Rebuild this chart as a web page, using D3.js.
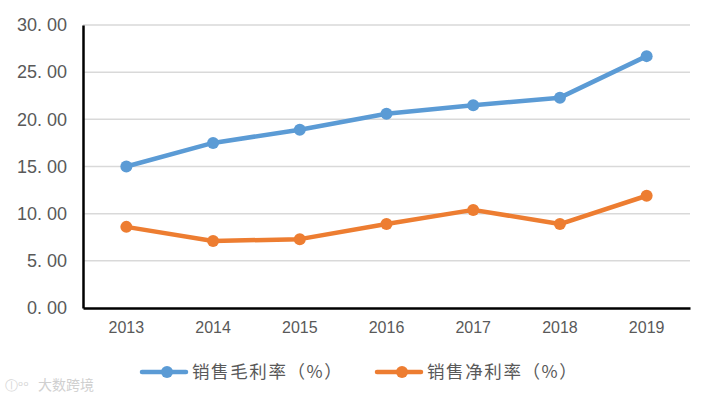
<!DOCTYPE html>
<html><head><meta charset="utf-8">
<script src="https://cdn.jsdelivr.net/npm/d3@7"></script>
<style>body{margin:0;background:#fff;}</style>
</head><body>
<svg id="c" width="705" height="400"></svg>
<script>
const years = ["2013","2014","2015","2016","2017","2018","2019"];
const grossMargin = [15.0, 17.5, 18.9, 20.6, 21.5, 22.3, 26.7];
const netMargin = [8.6, 7.1, 7.3, 8.9, 10.4, 8.9, 11.9];
const yTicks = [0, 5, 10, 15, 20, 25, 30];
const seriesNames = ["销售毛利率（%）", "销售净利率（%）"];
const colors = ["#5B9BD5", "#ED7D31"];

const svg = d3.select("#c");
const m = {l: 83, r: 690, t: 25, b: 308};
const x = d3.scaleBand().domain(years).range([m.l, m.r]);
const y = d3.scaleLinear().domain([0, 30]).range([m.b, m.t]);

// gridlines
svg.append("g").selectAll("line").data(yTicks.filter(d => d > 0)).join("line")
  .attr("x1", m.l).attr("x2", m.r)
  .attr("y1", d => y(d)).attr("y2", d => y(d))
  .attr("stroke", "#d9d9d9").attr("stroke-width", 1.5);

// y axis
const ya = svg.append("g").attr("transform", `translate(${m.l},0)`)
  .call(d3.axisLeft(y).tickValues(yTicks).tickSize(0).tickPadding(16).tickFormat(d => d3.format(".2f")(d).replace(".", ". ")));
ya.select(".domain").attr("stroke", "#000").attr("stroke-width", 2.5);
ya.selectAll("text").attr("font-family", "Liberation Sans, Arial, sans-serif").attr("font-size", 18).attr("fill", "#595959");

// x axis
const xa = svg.append("g").attr("transform", `translate(0,${m.b})`)
  .call(d3.axisBottom(x).tickSize(0).tickPadding(14));
xa.select(".domain").attr("stroke", "#000").attr("stroke-width", 2.5);
xa.selectAll("text").attr("font-family", "Liberation Sans, Arial, sans-serif").attr("font-size", 16).attr("fill", "#595959");

const line = d3.line().x((d, i) => x(years[i]) + x.bandwidth() / 2).y(d => y(d));
[grossMargin, netMargin].forEach((s, k) => {
  svg.append("path").datum(s).attr("d", line).attr("fill", "none")
    .attr("stroke", colors[k]).attr("stroke-width", 4.5).attr("stroke-linejoin", "round");
  svg.append("g").selectAll("circle").data(s).join("circle")
    .attr("cx", (d, i) => x(years[i]) + x.bandwidth() / 2).attr("cy", d => y(d))
    .attr("r", 6).attr("fill", colors[k]);
});

// legend
const legendX = [142, 377];
seriesNames.forEach((n, k) => {
  const g = svg.append("g").attr("transform", `translate(${legendX[k]},372)`);
  g.append("line").attr("x1", 0).attr("x2", 44).attr("stroke", colors[k]).attr("stroke-width", 4.5).attr("stroke-linecap", "round");
  g.append("circle").attr("cx", 25).attr("r", 6).attr("fill", colors[k]);
  g.append("text").attr("x", 50).attr("y", 6).text(n)
    .attr("font-family", "Noto Sans CJK SC, sans-serif").attr("font-size", 17.5)
    .attr("letter-spacing", 1.6).attr("fill", "#595959");
});

// watermark
svg.append("text").attr("x", 5).attr("y", 390).text("\u24db\u1d52\u1d52")
  .attr("font-family", "DejaVu Sans, sans-serif").attr("font-size", 13).attr("fill", "#d6d6d6");
svg.append("text").attr("x", 38).attr("y", 390).text("大数跨境")
  .attr("font-family", "Noto Sans CJK SC, sans-serif").attr("font-size", 14).attr("fill", "#d0d0d0");
</script>
</body></html>
